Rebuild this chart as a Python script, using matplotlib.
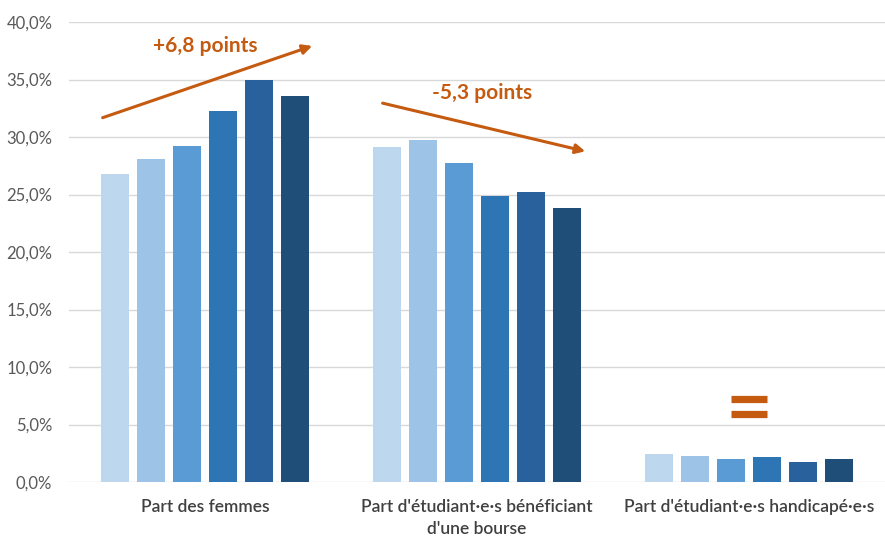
import numpy as np
import matplotlib.pyplot as plt
from matplotlib.ticker import FuncFormatter

plt.rcParams['font.family'] = ['Lato', 'DejaVu Sans']

categories = ["Part des femmes",
              "Part d'étudiant·e·s bénéficiant\nd'une bourse",
              "Part d'étudiant·e·s handicapé·e·s"]
# six successive years per category, light -> dark
year_values = [
    [26.8, 29.1, 2.4],
    [28.1, 29.7, 2.3],
    [29.2, 27.7, 2.0],
    [32.3, 24.9, 2.2],
    [35.0, 25.2, 1.7],
    [33.6, 23.8, 2.0],
]
bar_colors = ['#BDD7EE', '#9DC3E6', '#5B9BD5', '#2E75B6', '#28619C', '#1F4E79']
y_ticks = [0, 5, 10, 15, 20, 25, 30, 35, 40]
accent = '#C55A11'

fig = plt.figure(figsize=(8.85, 5.39), dpi=100)
ax = fig.add_axes([69 / 885, 1 - 482 / 539, 1 - 69 / 885, (482 - 22) / 539])

x = np.arange(len(categories))
step = 0.1325
width = 0.103
for i, vals in enumerate(year_values):
    ax.bar(x + (i - 2.5) * step, vals, width=width, color=bar_colors[i], zorder=3)

ax.set_xlim(-0.5, 2.5)
ax.set_ylim(0, 40)
ax.set_yticks(y_ticks)
ax.yaxis.set_major_formatter(FuncFormatter(lambda v, p: f"{v:.1f}%".replace('.', ',')))
ax.set_xticks(x)
ax.set_xticklabels(categories, linespacing=1.45)
ax.grid(axis='y', color='#D9D9D9', lw=1, zorder=0)
for s in ax.spines.values():
    s.set_visible(False)
ax.tick_params(axis='y', length=0, pad=12, labelsize=12, labelcolor='#595959')
ax.tick_params(axis='x', length=0, pad=12, labelsize=12.5, labelcolor='#404040')
for lab in ax.get_xticklabels():
    lab.set_fontweight('semibold')

# trend annotations
ax.annotate('', xy=(0.404, 38.0), xytext=(-0.386, 31.6),
            arrowprops=dict(arrowstyle='-|>', color=accent, lw=2.2, mutation_scale=14))
ax.text(0.0, 37.9, '+6,8 points', color=accent, fontsize=15, fontweight='bold',
        ha='center', va='center')
ax.annotate('', xy=(1.408, 28.7), xytext=(0.643, 33.0),
            arrowprops=dict(arrowstyle='-|>', color=accent, lw=2.2, mutation_scale=14))
ax.text(1.02, 33.8, '-5,3 points', color=accent, fontsize=15, fontweight='bold',
        ha='center', va='center')
for yy in (7.25, 5.95):
    ax.plot([2.0 - 0.068, 2.0 + 0.068], [yy, yy], color=accent, lw=5.2,
            solid_capstyle='butt', zorder=4)

fig.savefig('out.png', dpi=100)
